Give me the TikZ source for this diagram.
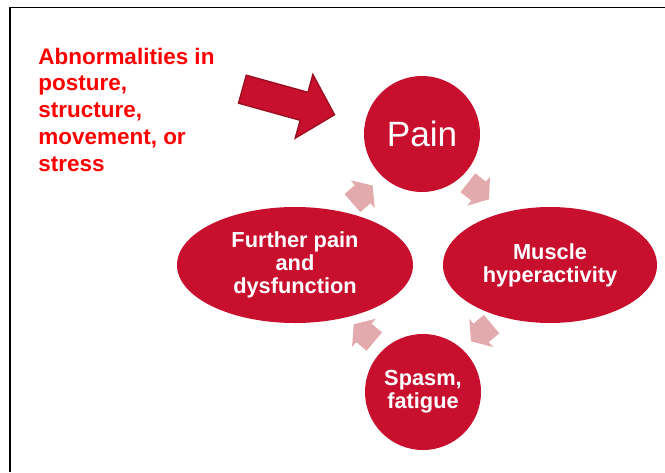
\documentclass[tikz,border=0pt]{standalone}
\usepackage{fontspec}
\setmainfont{Liberation Sans}
\usepackage{tikz}
\usetikzlibrary{shapes.geometric, calc}
\definecolor{cycred}{RGB}{200,16,46}
\definecolor{cycpink}{RGB}{226,170,172}
\definecolor{arrowedge}{RGB}{158,12,32}

\begin{document}
\begin{tikzpicture}[
        stage/.style={fill=cycred, text=white, align=center, inner sep=0pt, font=\fontsize{15.5}{16.5}\selectfont\bfseries},
        disc/.style={stage, circle, minimum size=2.9cm},
        oval/.style={stage, ellipse, minimum height=2.9cm},
        cycarrow/.pic={\fill[cycpink] (-0.34,-0.3) -- (0,-0.3) -- (0,-0.46) -- (0.33,0) -- (0,0.46) -- (0,0.3) -- (-0.34,0.3) -- cycle;},
    ]
    \useasboundingbox (0,0) rectangle (16.625,-11.8);
    % frame
    \draw[line width=1.1pt] (16.625,-0.19) -- (0.25,-0.19) -- (0.25,-11.8);
    % cause
    \node[anchor=north west, inner sep=0pt, align=left, text=red, font=\fontsize{16}{19}\selectfont\bfseries] (cause) at (0.95,-1.19)
        {Abnormalities in\\posture,\\structure,\\movement, or\\stress};
    \fill[cycred, draw=arrowedge, line width=1pt, shift={(6.06,-2.23)}, rotate=-15.5]
        (0,-0.3625) -- (1.6,-0.3625) -- (1.6,-0.825) -- (2.39,0) -- (1.6,0.825) -- (1.6,0.3625) -- (0,0.3625) -- cycle;
    % cycle
    \node[disc, font=\fontsize{25}{30}\selectfont] (pain) at (10.55,-3.35) {Pain};
    \node[oval, minimum width=5.35cm] (muscle) at (13.75,-6.625) {Muscle\\hyperactivity};
    \node[disc] (spasm) at (10.575,-9.8) {Spasm,\\fatigue};
    \node[oval, minimum width=5.9cm] (further) at (7.375,-6.625) {Further pain\\and\\dysfunction};
    % cycle arrows
    \coordinate (hub) at ($(pain)!0.5!(spasm)$);
    \foreach \a in {52,-50,-130,131}
        \pic[rotate=\a-90] at ($(hub)+(\a:2.28)$) {cycarrow};
\end{tikzpicture}
\end{document}
